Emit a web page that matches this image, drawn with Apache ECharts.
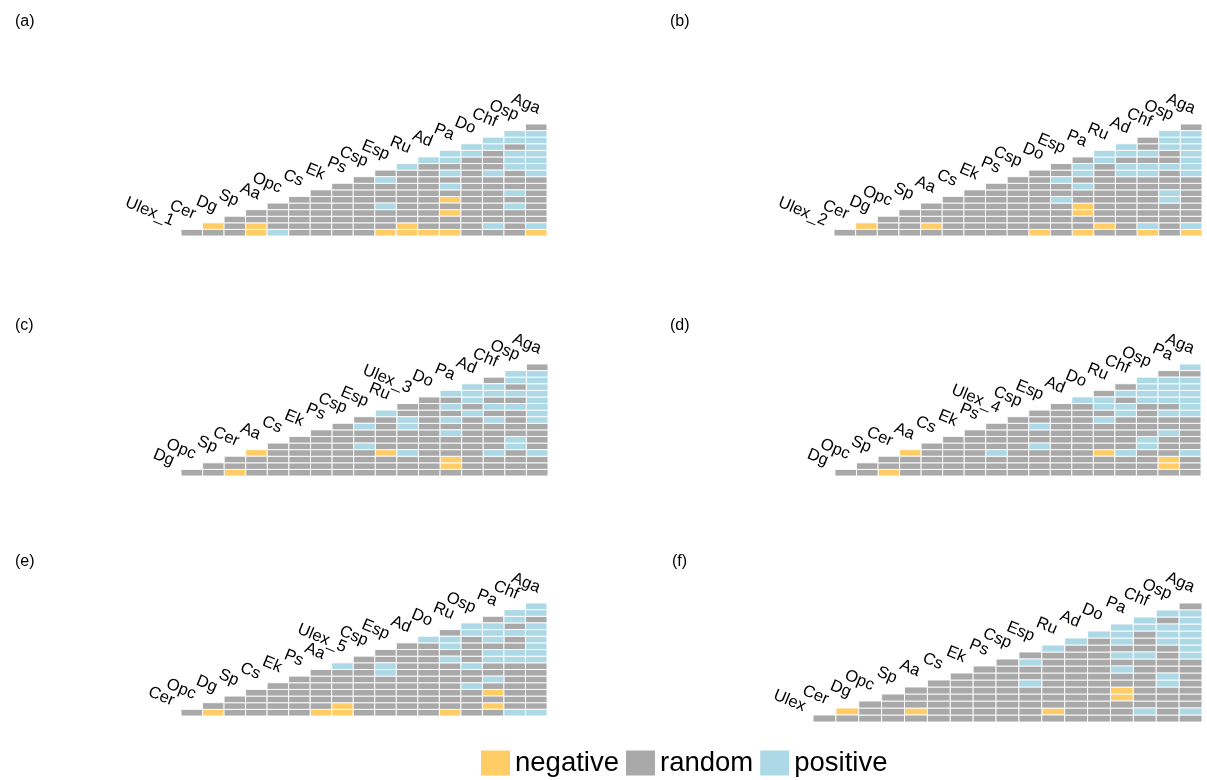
<!DOCTYPE html>
<html>
<head>
<meta charset="utf-8">
<script src="https://cdn.jsdelivr.net/npm/echarts@6/dist/echarts.min.js"></script>
<style>
html,body{margin:0;padding:0;background:#fff;}
#chart{width:1207px;height:780px;}
</style>
</head>
<body>
<div id="chart"></div>
<script>
// Species order along the diagonal of each panel
const speciesA = ['Ulex_1','Cer','Dg','Sp','Aa','Opc','Cs','Ek','Ps','Csp','Esp','Ru','Ad','Pa','Do','Chf','Osp','Aga'];
const speciesB = ['Ulex_2','Cer','Dg','Opc','Sp','Aa','Cs','Ek','Ps','Csp','Do','Esp','Pa','Ru','Ad','Chf','Osp','Aga'];
const speciesC = ['Dg','Opc','Sp','Cer','Aa','Cs','Ek','Ps','Csp','Esp','Ru','Ulex_3','Do','Pa','Ad','Chf','Osp','Aga'];
const speciesD = ['Dg','Opc','Sp','Cer','Aa','Cs','Ek','Ps','Ulex_4','Csp','Esp','Ad','Do','Ru','Chf','Osp','Pa','Aga'];
const speciesE = ['Cer','Opc','Dg','Sp','Cs','Ek','Ps','Aa','Ulex_5','Csp','Esp','Ad','Do','Ru','Osp','Pa','Chf','Aga'];
const speciesF = ['Ulex','Cer','Dg','Opc','Sp','Aa','Cs','Ek','Ps','Csp','Esp','Ru','Ad','Do','Pa','Chf','Osp','Aga'];

// Cell classes per column (column k = species k+1), listed bottom row first
// o = negative, g = random, b = positive
const cellsA = ["g","go","ggg","oogg","bgggg","gggggg","ggggggg","gggggggg","ggggggggg","ogggbgggbg","ooggggggggb","oggggggggggb","oggogogbgbgbb","ggggggggggggbb","gbgggggggbgggbb","ggggbgbgggbbbgbb","obgggggggbbbbbbbg"];
const cellsB = ["g","go","ggg","gggg","goggg","gggggg","ggggggg","gggggggg","ggggggggg","oggggggggg","gggggbggbgg","oggooggbgbbg","gogggggggggbb","gggggggggbbgbb","obgggggggbbgbgg","gggggbbgggbggbbb","obgggggggbbbbbbbg"];
const cellsC = ["g","gg","ogg","gggo","ggggg","gggggg","ggggggg","gggggggg","ggggbggbg","gggogggggb","gggbgggbbgg","gggggggggggg","googggbgbgbgb","gggggggggbgbbb","gggbggggbgbgbbg","ggggbbggggbgbgbb","gggbggggbbbbbbbbg"];
const cellsD = ["g","gg","ogg","gggo","ggggg","gggggg","ggggggg","gggbgggg","ggggggggg","ggggbggbgg","ggggggggggg","gggggggggggb","gggoggggbgbbg","gggbgggggbbgbg","ggggbbgggggbbbb","googggbggbgbbbbg","gggbgggggbbbbbbgb"];
const cellsE = ["g","og","ggg","gggg","ggggg","gggggg","ogggggg","oogggggb","ggggggggg","ggggggbbgg","ggggggggggg","gggggggggggb","ogggggggbgbbg","ggggbggbggggbb","gogogbggbbgbbbg","bgggggggbbggbgbb","bgggggggbbbbbbgbb"];
const cellsF = ["g","go","ggg","gggg","goggg","gggggg","ggggggg","gggggggg","ggggggggg","gggggbggbg","goggggggggb","gggggggggggb","ggggggggggggb","gggooggbgbgbbb","gbgggggggbgggbb","gggggbbggggbbbgb","gbgggggggbbbbbbbg"];

const panelLetters = ['(a)','(b)','(c)','(d)','(e)','(f)'];
const classNames = ['negative','random','positive'];
const classCodes = ['o','g','b'];
const classColors = ['#FFCC66','#A9A9A9','#ADD8E6'];

const panels = [
  {species: speciesA, cells: cellsA, grid:{left:181, top:124, width:366, height:112}, letter:{left:10, top:9}},
  {species: speciesB, cells: cellsB, grid:{left:834, top:124, width:368, height:112}, letter:{left:665, top:9}},
  {species: speciesC, cells: cellsC, grid:{left:181, top:364, width:367, height:112}, letter:{left:10, top:313}},
  {species: speciesD, cells: cellsD, grid:{left:835, top:364, width:366, height:112}, letter:{left:665, top:313}},
  {species: speciesE, cells: cellsE, grid:{left:181, top:603, width:366, height:113}, letter:{left:10, top:549}},
  {species: speciesF, cells: cellsF, grid:{left:813, top:603, width:389, height:119}, letter:{left:667, top:549}}
];

const FONT = '"Liberation Sans", Arial, Helvetica, sans-serif';
const NCOL = 17;

const grids = [], xAxes = [], yAxes = [], series = [], titles = [];

panels.forEach((p, i) => {
  grids.push(Object.assign({containLabel:false}, p.grid));
  xAxes.push({type:'value', gridIndex:i, min:0, max:NCOL, show:false});
  yAxes.push({type:'value', gridIndex:i, min:0, max:NCOL, show:false});
  titles.push({text:panelLetters[i], left:p.letter.left, top:p.letter.top,
    textStyle:{fontSize:16, fontWeight:'normal', color:'#000', fontFamily:FONT}});

  classCodes.forEach((code, k) => {
    const data = [];
    p.cells.forEach((colStr, c) => {
      for (let r = 0; r < colStr.length; r++) {
        if (colStr[r] === code) data.push([c + 1, r + 1]);
      }
    });
    series.push({
      type:'custom', name:classNames[k], xAxisIndex:i, yAxisIndex:i,
      itemStyle:{color:classColors[k]},
      data:data,
      clip:false,
      renderItem:function(params, api){
        const c = api.value(0), r = api.value(1);
        const p0 = api.coord([c - 1, r - 1]);
        const p1 = api.coord([c, r]);
        return {type:'rect',
          shape:{x:p0[0], y:p1[1], width:p1[0]-p0[0], height:p0[1]-p1[1]},
          style:{fill:api.visual('color'), stroke:'#ffffff', lineWidth:0.9}};
      }
    });
  });

  const sp = p.species;
  series.push({
    type:'custom', name:'labels'+i, xAxisIndex:i, yAxisIndex:i, clip:false, silent:true,
    data: sp.map((n, s) => [s - 0.5, s + 1]),
    renderItem:function(params, api){
      const pt = api.coord([api.value(0), api.value(1)]);
      return {type:'text', x:pt[0], y:pt[1], rotation:-22.5*Math.PI/180,
        style:{text:sp[params.dataIndex], fill:'#000', fontSize:16.5, fontFamily:FONT,
               align:'right', verticalAlign:'bottom'}};
    }
  });
});

const chart = echarts.init(document.getElementById('chart'), null, {renderer:'canvas'});
chart.setOption({
  animation:false,
  backgroundColor:'#fff',
  title:titles,
  grid:grids,
  xAxis:xAxes,
  yAxis:yAxes,
  legend:{
    data:classNames.map(n => ({name:n, icon:'rect'})),
    left:476, top:744, itemWidth:29, itemHeight:25, itemGap:7,
    textStyle:{fontSize:27.5, color:'#000', fontFamily:FONT},
    selectedMode:false
  },
  series:series
});
</script>
</body>
</html>
